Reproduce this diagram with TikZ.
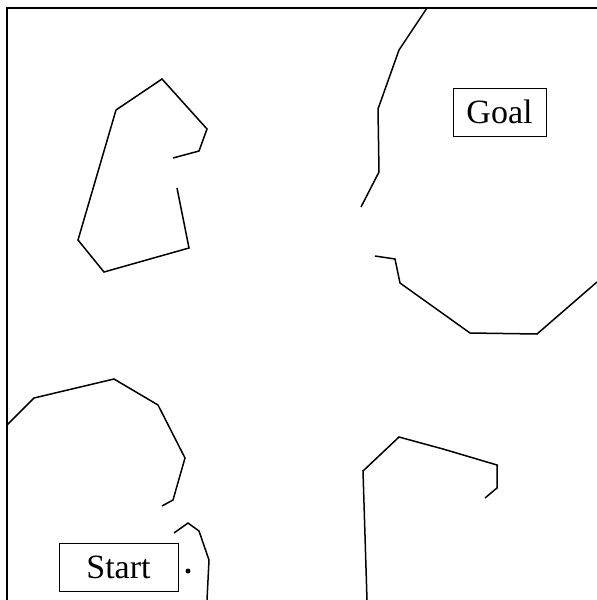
\documentclass[tikz,border=0pt]{standalone}
\usepackage{fontspec}
\setmainfont{Liberation Serif}
\begin{document}
\begin{tikzpicture}[x=1pt,y=-1pt,
  obst/.style={line width=1.5pt,line join=miter},
  frame/.style={line width=1.5pt},
  label/.style={draw,line width=1pt,inner sep=0pt,font=\fontsize{34}{36}\selectfont}]
\useasboundingbox (0,0) rectangle (597,600);
% frame
\draw[frame] (7,600) -- (7,8) -- (597,8);
% labels
\node[label,minimum width=93pt,minimum height=48pt] (goal) at (499.5,112) {Goal};
\node[label,minimum width=119pt,minimum height=48pt] (start) at (118.5,567) {Start};
\node[circle,fill,inner sep=0pt,minimum size=5pt] (dot) at (188,571) {};
% upper-left obstacle
\draw[obst] (173,158) -- (199,151) -- (207,129) -- (162,79) -- (116,110) -- (78,240) -- (104,272) -- (189,248) -- (177,188);
% goal obstacle
\draw[obst] (427,8) -- (399,50) -- (378,109) -- (379,172) -- (361,207);
\draw[obst] (375,256) -- (395,259) -- (400,283) -- (470,333) -- (537,334) -- (597,282);
% lower-left obstacle
\draw[obst] (7,425) -- (34,398) -- (114,379) -- (158,405) -- (185,458) -- (173,500) -- (162,506);
\draw[obst] (174,533) -- (188,523) -- (199,531) -- (209,560) -- (207,600);
% lower-right obstacle
\draw[obst] (485,498) -- (497,488) -- (497,465) -- (443,449) -- (399,437) -- (363,471) -- (367,600);
\end{tikzpicture}
\end{document}
